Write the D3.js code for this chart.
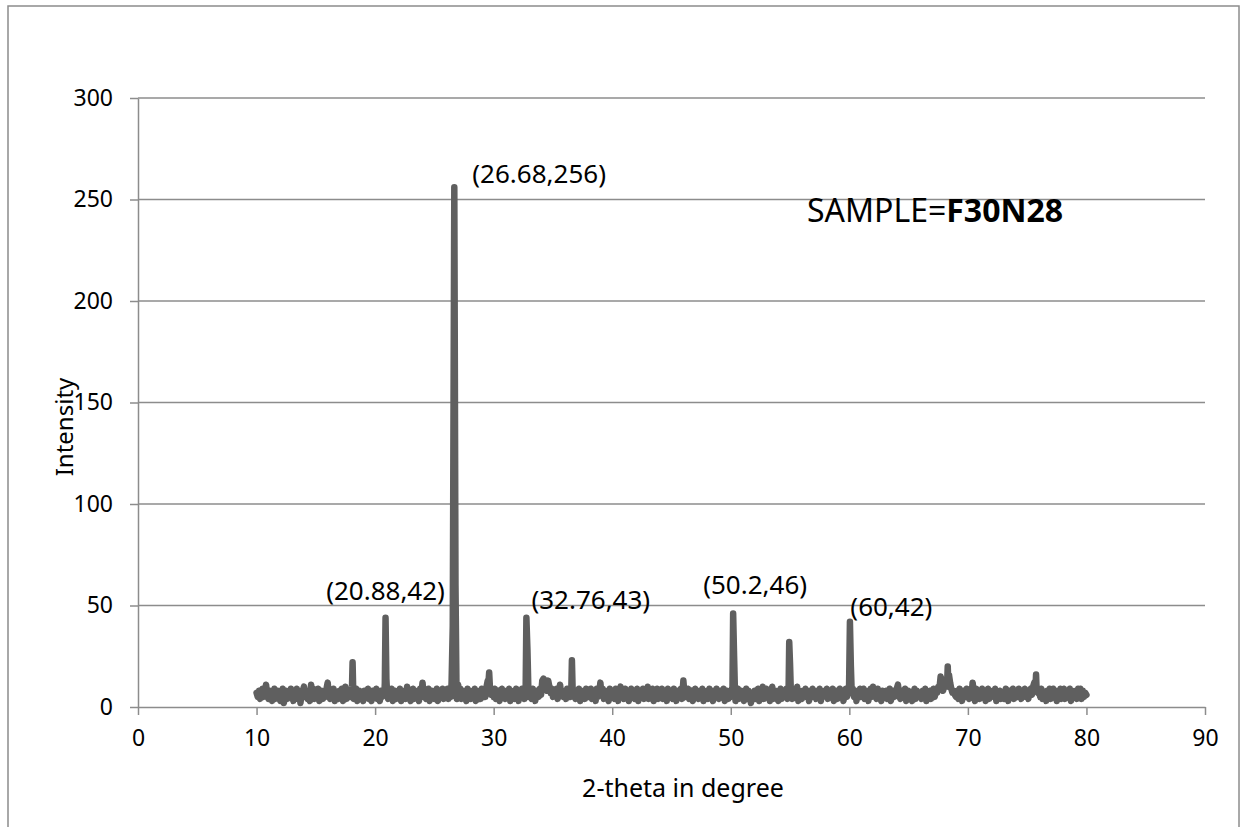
<!DOCTYPE html>
<html>
<head>
<meta charset="utf-8">
<script src="https://cdn.jsdelivr.net/npm/d3@7"></script>
<style>
	body { margin: 0; background: #fff; }
	svg { display: block; font-family: "Noto Sans", "Open Sans", sans-serif; }
</style>
</head>
<body>
<svg id="chart" width="1241" height="827"></svg>
<script>
// background scan, 10.0 to 80.0 deg every 0.1 deg (one row per degree)
let scanStart = 10,
	scanStep = 0.1;
let baseline = [
	7,5,8,4,6,9,5,7,11,6,
	4,8,5,3,7,9,4,6,8,5,
	3,7,9,2,6,8,4,7,5,9,
	6,3,8,5,9,4,7,2,6,8,
	10,5,8,4,7,3,11,6,9,4,
	7,5,9,3,6,8,4,7,5,9,
	12,6,4,8,5,9,3,7,6,4,
	8,5,9,3,6,10,4,7,5,8,
	5,8,4,7,9,3,6,8,4,7,
	3,8,5,6,9,4,7,3,8,5,
	6,9,4,7,3,8,5,6,9,4,
	8,4,7,5,9,3,6,8,4,7,
	5,9,3,7,6,8,4,10,5,7,
	3,6,9,4,8,5,7,3,9,6,
	12,5,8,4,7,9,3,6,8,5,
	4,7,9,3,8,6,5,9,4,7,
	6,9,4,8,5,3,7,9,6,4,
	11,6,9,4,8,5,7,3,9,6,
	8,4,7,6,9,3,8,5,7,4,
	9,6,8,5,10,13,7,9,6,8,
	5,9,4,7,8,3,6,9,5,7,
	4,8,6,9,3,7,5,8,4,9,
	6,3,8,5,9,7,4,7,6,9,
	5,8,4,9,6,3,7,8,5,9,
	6,13,14,9,12,8,13,10,7,9,
	5,8,6,9,4,7,11,6,8,5,
	7,4,9,6,8,5,7,9,6,4,
	8,5,9,3,7,6,8,4,9,6,
	5,7,9,4,8,6,3,9,5,7,
	12,6,9,4,8,5,7,3,9,6,
	5,8,4,9,6,3,8,10,5,7,
	4,9,6,8,3,7,9,5,8,4,
	6,9,3,7,8,5,9,4,7,6,
	10,4,8,6,9,3,7,5,9,4,
	7,5,9,4,8,6,3,9,7,5,
	8,4,9,6,3,7,8,5,9,4,
	13,6,8,5,9,4,7,8,3,6,
	9,5,7,4,8,6,9,3,7,5,
	8,4,9,6,7,3,8,5,9,6,
	4,7,8,5,9,3,6,8,4,7,
	5,9,6,8,3,7,9,4,6,8,
	5,3,7,9,4,8,6,2,7,5,
	8,4,6,9,3,7,5,10,4,6,
	9,5,8,3,7,10,4,6,8,5,
	3,7,9,4,8,6,5,9,4,7,
	6,9,4,8,5,7,10,3,8,6,
	4,8,6,9,5,7,3,8,6,9,
	5,7,4,8,6,9,3,7,5,8,
	6,9,4,7,8,5,9,3,6,8,
	4,7,9,5,8,3,6,9,5,7,
	6,8,4,9,5,7,3,8,6,9,
	5,7,9,4,8,6,3,7,9,5,
	10,6,8,4,9,5,7,3,8,6,
	5,8,4,7,9,3,6,8,5,7,
	9,11,6,4,8,5,7,9,3,6,
	8,5,7,3,6,9,4,8,6,5,
	7,4,8,6,9,3,7,5,8,4,
	6,9,5,8,7,10,9,15,12,8,
	10,13,14,17,16,12,9,7,8,6,
	5,8,4,9,6,3,7,8,5,9,
	6,4,8,5,12,7,3,9,6,8,
	4,7,9,5,8,3,6,9,4,7,
	5,8,6,9,3,7,5,8,4,6,
	7,4,9,6,3,8,5,7,9,4,
	6,8,5,9,7,4,8,6,9,5,
	7,4,8,9,6,10,12,9,5,7,
	8,5,9,4,7,6,3,8,5,9,
	4,7,9,5,8,3,7,6,9,4,
	6,9,4,8,5,7,9,3,8,6,
	5,8,4,9,6,9,4,8,5,7,
	6
];

// reflections, each as a short run of [2theta, counts]
let peaks = [
	[[18.05, 10], [18.1, 22], [18.15, 9]],
	[[20.82, 12], [20.88, 44], [20.95, 14]],
	[[26.45, 12], [26.55, 40], [26.68, 256], [26.78, 60], [26.86, 12]],
	[[29.55, 11], [29.62, 17], [29.7, 8]],
	[[32.7, 10], [32.76, 44], [32.85, 28], [32.93, 8]],
	[[36.55, 9], [36.6, 23], [36.66, 9]],
	[[50.14, 8], [50.2, 46], [50.28, 25], [50.35, 8]],
	[[54.88, 10], [54.93, 32], [55.0, 21], [55.07, 7]],
	[[59.98, 11], [60.05, 42], [60.13, 20], [60.2, 7]],
	[[68.25, 12], [68.3, 20], [68.36, 10]],
	[[75.7, 9], [75.75, 16], [75.8, 8]]
];

let annX = [26.68, 20.88, 32.76, 50.2, 60],
	annY = [256, 44, 44, 46, 42],
	annText = ['(26.68,256)', '(20.88,42)', '(32.76,43)', '(50.2,46)', '(60,42)'];

let xTicks = [0, 10, 20, 30, 40, 50, 60, 70, 80, 90],
	yTicks = [0, 50, 100, 150, 200, 250, 300];

let sampleLabel = 'SAMPLE=',
	sampleName = 'F30N28';

// ---- layout
let svg = d3.select('#chart'),
	plotLeft = 138, plotRight = 1205, plotTop = 98, plotBottom = 707,
	gridColor = '#8c8c8c',
	lineColor = '#5f5f5f';

let xScale = d3.scaleLinear()
	.domain([0, 90])
	.range([plotLeft, plotRight]),
	yScale = d3.scaleLinear()
		.domain([0, 300])
		.range([plotBottom, plotTop]);

// merge scan with reflections, dropping scan points that sit inside a reflection
let points = [];
baseline.forEach((v, i) => {
	let x = +(scanStart + i * scanStep).toFixed(2);
	let inside = peaks.some(p => x >= p[0][0] && x <= p[p.length-1][0]);
	if (!inside) points.push([x, v]);
});
peaks.forEach(p => p.forEach(d => points.push(d)));
points.sort((a, b) => a[0] - b[0]);

// outer frame
svg.append('rect')
	.attr('x', 8)
	.attr('y', 6)
	.attr('width', 1231)
	.attr('height', 900)
	.attr('fill', 'none')
	.attr('stroke', gridColor)
	.attr('stroke-width', 1.5);

// gridlines
svg.append('g')
	.selectAll('line')
	.data(yTicks.filter(d => d > 0))
	.enter()
	.append('line')
	.attr('x1', plotLeft)
	.attr('x2', plotRight)
	.attr('y1', d => yScale(d))
	.attr('y2', d => yScale(d))
	.attr('stroke', gridColor)
	.attr('stroke-width', 1.5);

// axes
let yAxis = svg.append('g')
	.attr('transform', `translate(${plotLeft}, 0)`)
	.call(d3.axisLeft(yScale).tickValues(yTicks).tickSize(8).tickPadding(17).tickSizeOuter(0));

let xAxis = svg.append('g')
	.attr('transform', `translate(0, ${plotBottom})`)
	.call(d3.axisBottom(xScale).tickValues(xTicks).tickSize(8).tickPadding(15).tickSizeOuter(0));

[xAxis, yAxis].forEach(ax => {
	ax.select('.domain')
		.attr('stroke', gridColor)
		.attr('stroke-width', 1.5);
	ax.selectAll('.tick line')
		.attr('stroke', gridColor)
		.attr('stroke-width', 1.5);
	ax.selectAll('.tick text')
		.attr('fill', '#000')
		.style('font-size', '23px')
		.style('font-family', '"Noto Sans", sans-serif');
});

// scan line
svg.append('path')
	.datum(points)
	.attr('fill', 'none')
	.attr('stroke', lineColor)
	.attr('stroke-width', 6.5)
	.attr('stroke-linejoin', 'round')
	.attr('stroke-linecap', 'round')
	.attr('d', d3.line()
		.x(d => xScale(d[0]))
		.y(d => yScale(d[1])));

// peak labels
let labelOffsets = [[18, -4, 'start'], [0, -18, 'middle'], [5, -9, 'start'], [22, -20, 'middle'], [1, -6, 'start']];
svg.append('g')
	.selectAll('text')
	.data(annText)
	.enter()
	.append('text')
	.attr('x', (d, i) => xScale(annX[i]) + labelOffsets[i][0])
	.attr('y', (d, i) => yScale(annY[i]) + labelOffsets[i][1])
	.attr('text-anchor', (d, i) => labelOffsets[i][2])
	.style('font-size', '26px')
	.text(d => d);

// sample tag
let tag = svg.append('text')
	.attr('x', 807)
	.attr('y', 222)
	.style('font-size', '32px');
tag.append('tspan')
	.text(sampleLabel);
tag.append('tspan')
	.attr('font-weight', 'bold')
	.text(sampleName);

// axis titles
svg.append('text')
	.attr('x', 683)
	.attr('y', 797)
	.attr('text-anchor', 'middle')
	.style('font-size', '25px')
	.text('2-theta in degree');

svg.append('text')
	.attr('transform', 'translate(73, 427) rotate(-90)')
	.attr('text-anchor', 'middle')
	.style('font-size', '24px')
	.text('Intensity');
</script>
</body>
</html>
